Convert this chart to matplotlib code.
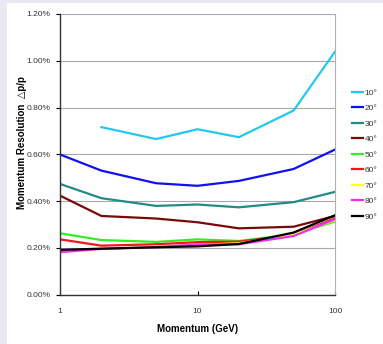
import numpy as np
import matplotlib.pyplot as plt
from matplotlib.patches import Rectangle
from matplotlib.ticker import FuncFormatter, FixedLocator, NullLocator

plt.rcParams['font.family'] = ['Liberation Sans', 'DejaVu Sans']

# data (percent)
momentum = [1, 2, 5, 10, 20, 50, 100]
angles = ['10°', '20°', '30°', '40°', '50°', '60°', '70°', '80°', '90°']
res_10 = [np.nan, 0.716, 0.665, 0.707, 0.673, 0.787, 1.039]
res_20 = [0.599, 0.530, 0.476, 0.465, 0.486, 0.537, 0.620]
res_30 = [0.473, 0.412, 0.379, 0.385, 0.373, 0.395, 0.439]
res_40 = [0.423, 0.336, 0.325, 0.309, 0.283, 0.290, 0.336]
res_50 = [0.262, 0.233, 0.225, 0.236, 0.229, 0.258, 0.312]
res_60 = [0.236, 0.209, 0.215, 0.224, 0.226, 0.255, 0.326]
res_70 = [0.186, 0.196, 0.204, 0.212, 0.219, 0.256, 0.318]
res_80 = [0.181, 0.195, 0.203, 0.214, 0.215, 0.250, 0.322]
res_90 = [0.191, 0.196, 0.202, 0.206, 0.216, 0.265, 0.339]
series = [res_10, res_20, res_30, res_40, res_50, res_60, res_70, res_80, res_90]
colors = ['#22c8f2', '#1010f0', '#248a88', '#7a0a0a', '#33ee22',
          '#f01818', '#ffff20', '#ee30ee', '#000000']

fig = plt.figure(figsize=(3.83, 3.44), dpi=100)
fig.patch.set_facecolor('#e9e9f3')
# white panel inside the lavender border
fig.patches.append(Rectangle((7 / 383, 0), 1, 341 / 344, transform=fig.transFigure,
                             facecolor='white', edgecolor='none', zorder=-10))

ax = fig.add_axes([60 / 383, 1 - 294.5 / 344, 275 / 383, 280.5 / 344])
ax.set_facecolor('none')

for vals, c, lab in zip(series, colors, angles):
    ax.plot(momentum, vals, color=c, lw=1.6, label=lab, solid_joinstyle='round')

ax.set_xscale('log')
ax.set_xlim(1, 100)
ax.set_ylim(0, 1.2)
ax.xaxis.set_major_locator(FixedLocator([1, 10, 100]))
ax.xaxis.set_minor_locator(NullLocator())
ax.xaxis.set_major_formatter(FuncFormatter(lambda v, p: '%d' % v))
ax.set_yticks(np.arange(0, 1.21, 0.2))
ax.yaxis.set_major_formatter(FuncFormatter(lambda v, p: '%.2f%%' % v))
ax.grid(axis='y', color='#a8a8a8', lw=0.8)
ax.set_axisbelow(True)

ax.tick_params(axis='y', labelsize=6, labelcolor='#333333', length=3, width=0.8, pad=4)
ax.tick_params(axis='x', labelsize=6, labelcolor='#333333', direction='in', length=3,
               width=0.8, pad=10)
for s in ['left', 'bottom']:
    ax.spines[s].set_color('#333333')
    ax.spines[s].set_linewidth(1.0)
ax.spines['top'].set_visible(False)
ax.spines['right'].set_color('#b0b0b0')
ax.spines['right'].set_linewidth(0.8)

ax.set_xlabel('Momentum (GeV)', fontsize=7, fontweight='bold', labelpad=6)
ax.set_ylabel('Momentum Resolution  △p/p', fontsize=7, fontweight='bold')
ax.yaxis.set_label_coords(-0.12, 0.54)

leg = ax.legend(loc='upper left', bbox_to_anchor=(352 / 383, 1 - 89 / 344),
                bbox_transform=fig.transFigure, frameon=False, fontsize=6,
                handlelength=1.3, handletextpad=0.2, labelspacing=0.92,
                borderaxespad=0, borderpad=0)
for t in leg.get_texts():
    t.set_color('#333333')

fig.savefig('out.png', dpi=100, facecolor=fig.get_facecolor())
